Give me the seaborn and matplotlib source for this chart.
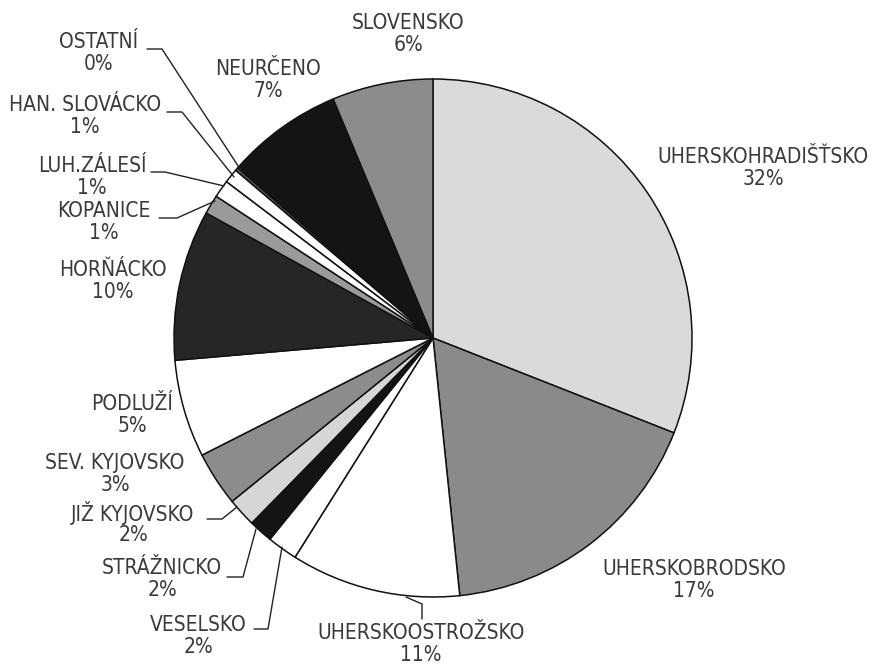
"""
Pie chart of regional shares (Slovácko regions), grey scanned style.
"""

import matplotlib
matplotlib.use("Agg")
import matplotlib.pyplot as plt
import seaborn as sns

# slices, clockwise from 12 o'clock
regions = ["UHERSKOHRADIŠŤSKO", "UHERSKOBRODSKO", "UHERSKOOSTROŽSKO",
           "VESELSKO", "STRÁŽNICKO", "JIŽ KYJOVSKO", "SEV. KYJOVSKO",
           "PODLUŽÍ", "HORŇÁCKO", "KOPANICE", "LUH.ZÁLESÍ",
           "HAN. SLOVÁCKO", "OSTATNÍ", "NEURČENO", "SLOVENSKO"]
# shares as measured from the slice angles
shares = [31.0, 17.4, 10.6, 1.9, 1.5, 1.8, 3.4, 6.1, 9.4, 1.2, 1.1,
          0.9, 0.2, 7.3, 6.3]
# percentages printed on the chart
pct_labels = ["32%", "17%", "11%", "2%", "2%", "2%", "3%", "5%", "10%",
              "1%", "1%", "1%", "0%", "7%", "6%"]
greys = ["#dadada", "#8a8a8a", "#ffffff", "#ffffff", "#141414", "#d6d6d6",
         "#8c8c8c", "#ffffff", "#262626", "#9a9a9a", "#ffffff", "#ffffff",
         "#555555", "#141414", "#8c8c8c"]

W, H = 872, 668
CX, CY, R = 433, H - 338, 259

# label centres in pixel coordinates (y from top)
label_pos = {
    "UHERSKOHRADIŠŤSKO": (763, 157), "UHERSKOBRODSKO": (694, 569),
    "UHERSKOOSTROŽSKO": (421, 633), "VESELSKO": (198, 625),
    "STRÁŽNICKO": (162, 568), "JIŽ KYJOVSKO": (133, 513),
    "SEV. KYJOVSKO": (115, 463), "PODLUŽÍ": (132, 404),
    "HORŇÁCKO": (113, 270), "KOPANICE": (104, 211),
    "LUH.ZÁLESÍ": (92, 166), "HAN. SLOVÁCKO": (85, 105),
    "OSTATNÍ": (99, 42), "NEURČENO": (268, 69), "SLOVENSKO": (408, 23),
}

leaders = {
    "OSTATNÍ": [(147, 49), (162, 49), (242, 172)],
    "HAN. SLOVÁCKO": [(167, 112), (182, 112), (234, 177)],
    "LUH.ZÁLESÍ": [(151, 172), (165, 172), (224, 186)],
    "KOPANICE": [(159, 218), (177, 218), (215, 201)],
    "JIŽ KYJOVSKO": [(207, 519), (222, 519), (237, 507)],
    "STRÁŽNICKO": [(227, 577), (243, 577), (256, 529)],
    "VESELSKO": [(254, 629), (268, 629), (282, 547)],
    "UHERSKOOSTROŽSKO": [(422, 619), (422, 604), (406, 597)],
}


def plot():
    sns.set_theme(style="white")
    plt.rcParams["font.family"] = ["DejaVu Sans"]
    fig = plt.figure(figsize=(W / 100, H / 100), dpi=100)
    ax = fig.add_axes([0, 0, 1, 1])
    ax.pie(shares, colors=greys, startangle=90, counterclock=False,
           center=(CX, CY), radius=R,
           wedgeprops=dict(edgecolor="#111111", linewidth=1.1))
    ax.set_xlim(0, W)
    ax.set_ylim(0, H)
    ax.set_aspect("equal")
    ax.axis("off")

    font = dict(fontsize=15, color="#3a3a3a", ha="center", va="center",
                fontstretch="condensed")
    for name, pct in zip(regions, pct_labels):
        x, y = label_pos[name]
        ax.text(x, H - y, name, **font)
        ax.text(x, H - y - 22, pct, **font)

    for pts in leaders.values():
        xs = [p[0] for p in pts]
        ys = [H - p[1] for p in pts]
        ax.plot(xs, ys, color="#222222", linewidth=1)

    fig.savefig("out.png", dpi=100)


def main():
    plot()


if __name__ == "__main__":
    main()
